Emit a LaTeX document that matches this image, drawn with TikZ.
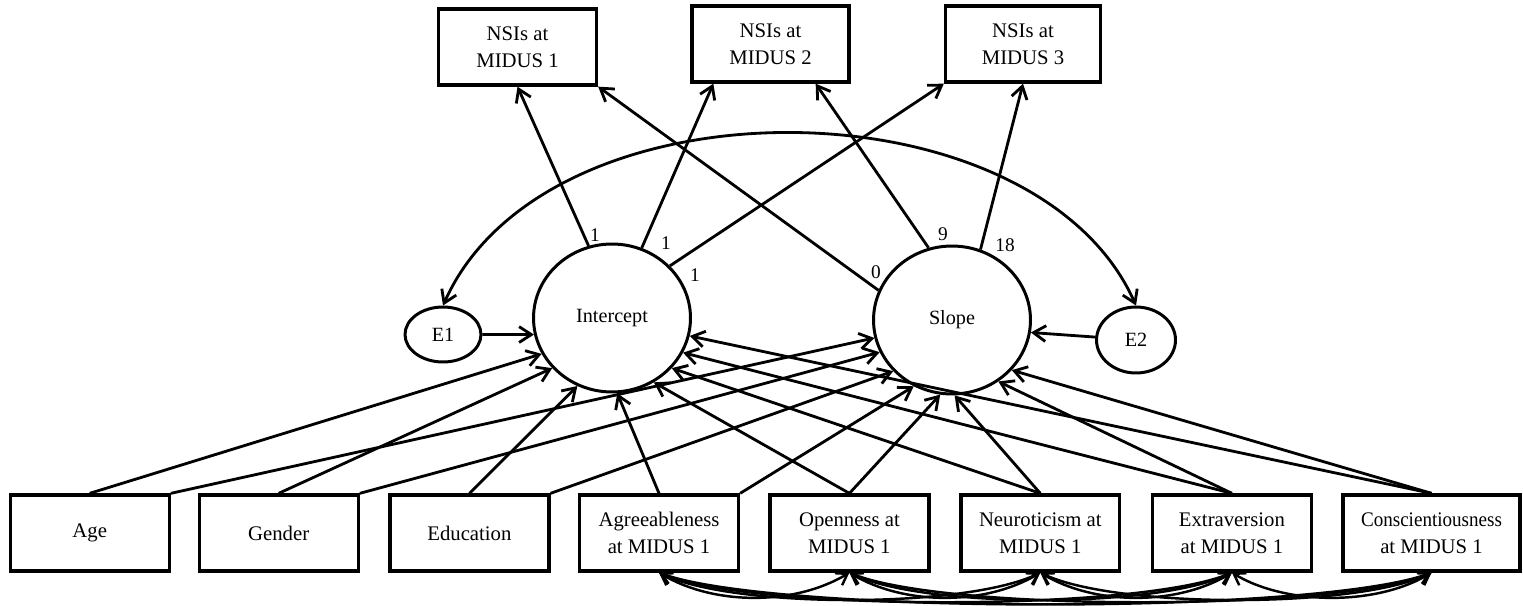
\documentclass[tikz,border=0pt]{standalone}
\usepackage{fontspec}
\setmainfont{Liberation Serif}
\usetikzlibrary{arrows.meta,shapes.geometric}

\begin{document}
\begin{tikzpicture}[x=0.02cm,y=-0.02cm,
  obs/.style={draw, line width=1.9pt, fill=white, minimum width=3.18cm, minimum height=1.52cm,
    inner sep=0pt, align=center, font=\fontsize{11.8}{15.6}\selectfont},
  latent/.style={draw, ellipse, line width=1.7pt, minimum width=3.14cm, minimum height=2.96cm,
    inner sep=0pt, font=\fontsize{11.5}{14}\selectfont},
  err/.style={draw, ellipse, line width=1.7pt, inner sep=0pt, font=\fontsize{11.5}{14}\selectfont},
  tip/.tip={Straight Barb[length=7pt,width=9pt]},
  reg/.style={line width=1.6pt, -tip},
  cov/.style={line width=1.6pt, tip-tip},
  band/.style={line width=1.4pt, {Straight Barb[length=6pt,width=8pt]}-{Straight Barb[length=6pt,width=8pt]}},
  lbl/.style={font=\fontsize{11}{12}\selectfont, inner sep=0pt},
]
\useasboundingbox (0,0) rectangle (1523,605);

% outcome boxes
\node[obs, minimum width=3.16cm] (n1) at (517.5,47) {NSIs at\\MIDUS 1};
\node[obs, minimum width=3.14cm] (n2) at (770.5,44) {NSIs at\\MIDUS 2};
\node[obs, minimum width=3.10cm] (n3) at (1023,44) {NSIs at\\MIDUS 3};

% growth factors and their residuals
\node[latent] (int) at (612,318) {Intercept};
\node[latent] (slo) at (952,320) {Slope};
\node[err, minimum width=1.52cm, minimum height=1.1cm] (e1) at (443,334.5) {E1};
\node[err, minimum width=1.58cm, minimum height=1.32cm] (e2) at (1136,340) {E2};

% predictors
\node[obs] (age) at (89.7,533) {Age};
\node[obs] (gen) at (278.7,533) {Gender};
\node[obs] (edu) at (469.4,533) {Education};
\node[obs] (agr) at (659,533) {Agreeableness\\at MIDUS 1};
\node[obs] (opn) at (849.4,533) {Openness at\\MIDUS 1};
\node[obs] (neu) at (1040.3,533) {Neuroticism at\\MIDUS 1};
\node[obs] (ext) at (1231.9,533) {Extraversion\\at MIDUS 1};
\node[obs, minimum width=3.54cm] (con) at (1431.5,533)
  {\scalebox{0.92}[1]{Conscientiousness}\\at MIDUS 1};

% factor loadings
\draw[reg] (int.108) -- (n1.south);
\draw[reg] (int.67) -- ([xshift=0.46cm]n2.south west);
\draw[reg] (int.42) -- (n3.south west);
\draw[reg] (slo.158) -- (n1.south east);
\draw[reg] (slo.108) -- ([xshift=-0.7cm]n2.south east);
\draw[reg] (slo.68) -- (n3.south);

\node[lbl] (w1) at (595,235) {1};
\node[lbl] (w2) at (666,243) {1};
\node[lbl] (w3) at (695,275) {1};
\node[lbl] (w4) at (876,272) {0};
\node[lbl] (w5) at (943,234) {9};
\node[lbl] (w6) at (1005,245) {18};

% residual paths and their covariance
\draw[reg] (e1) -- (int.192);
\draw[reg] (e2) -- (slo.351);
\draw[cov] (e1.north) .. controls +(103,-232) and +(-101,-227) .. (e2.north);

% predictors of intercept and slope
\draw[reg] (age.north) -- (int.207);
\draw[reg] (age.north east) -- (slo.193);
\draw[reg] (gen.north) -- (int.220);
\draw[reg] (gen.north east) -- (slo.204);
\draw[reg] (edu.north) -- (int.243);
\draw[reg] (edu.north east) -- (slo.221);
\draw[reg] (agr.north) -- (int.274);
\draw[reg] (agr.north east) -- (slo.240);
\draw[reg] (opn.north) -- (int.303);
\draw[reg] (opn.north) -- (slo.261);
\draw[reg] (neu.north) -- (int.320);
\draw[reg] (neu.north) -- (slo.272);
\draw[reg] (ext.north) -- (int.334);
\draw[reg] (ext.north) -- (slo.307);
\draw[reg] (con.north) -- (int.347);
\draw[reg] (con.north) -- (slo.320);

% covariances among personality traits
\foreach \a/\b/\k in {agr/opn/1, agr/neu/2, agr/ext/3, agr/con/4, opn/neu/1,
                      opn/ext/2, opn/con/3, neu/ext/1, neu/con/2, ext/con/1}
  \draw[band] (\a.south) .. controls +({35+20*\k},{30+3*\k}) and +({-35-20*\k},{30+3*\k}) .. (\b.south);
\end{tikzpicture}
\end{document}
